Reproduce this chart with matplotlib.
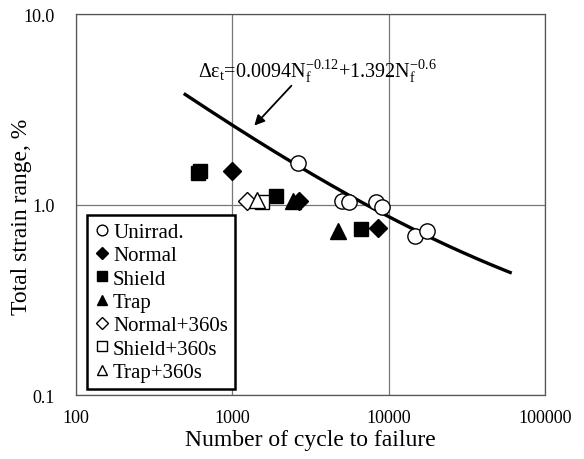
import numpy as np
import matplotlib.pyplot as plt

plt.rcParams['font.family'] = ['Liberation Serif', 'DejaVu Serif']
plt.rcParams['mathtext.fontset'] = 'custom'
plt.rcParams['mathtext.rm'] = 'Liberation Serif'
plt.rcParams['mathtext.it'] = 'Liberation Serif'

# cycles to failure / total strain range (%)
unirrad_n = [2650, 5070, 5620, 8260, 9020, 14700, 17500]
unirrad_e = [1.66, 1.05, 1.036, 1.036, 0.976, 0.687, 0.73]
normal_n = [1000, 2690, 8500]
normal_e = [1.51, 1.05, 0.757]
shield_n = [605, 625, 1914, 6700]
shield_e = [1.47, 1.50, 1.115, 0.748]
trap_n = [2430, 4780]
trap_e = [1.04, 0.73]
normal360_n = [1250]
normal360_e = [1.05]
shield360_n = [1557]
shield360_e = [1.036]
trap360_n = [1450]
trap360_e = [1.06]


def fit(n):
    return 100 * (0.0094 * n ** -0.12 + 1.392 * n ** -0.6)


fig = plt.figure(figsize=(5.84, 4.6), dpi=100)
ax = fig.add_axes([0.130, 0.139, 0.803, 0.828])

nn = np.logspace(np.log10(500), np.log10(60000), 200)
ax.plot(nn, fit(nn), color='black', lw=2.4, zorder=2)

ms = 11
ax.plot(unirrad_n, unirrad_e, 'o', mfc='white', mec='black', mew=1.0, ms=ms, label='Unirrad.', zorder=3)
ax.plot(normal_n, normal_e, 'D', mfc='black', mec='black', ms=ms * 0.8, label='Normal', zorder=3)
ax.plot(shield_n, shield_e, 's', mfc='black', mec='black', ms=ms * 0.9, label='Shield', zorder=3)
ax.plot(trap_n, trap_e, '^', mfc='black', mec='black', ms=ms, label='Trap', zorder=3)
ax.plot(normal360_n, normal360_e, 'D', mfc='white', mec='black', mew=1.0, ms=ms * 0.8, label='Normal+360s', zorder=3)
ax.plot(shield360_n, shield360_e, 's', mfc='white', mec='black', mew=1.0, ms=ms * 0.9, label='Shield+360s', zorder=3)
ax.plot(trap360_n, trap360_e, '^', mfc='white', mec='black', mew=1.0, ms=ms, label='Trap+360s', zorder=3)

ax.set_xscale('log')
ax.set_yscale('log')
ax.set_xlim(100, 100000)
ax.set_ylim(0.1, 10)
ax.set_xticks([100, 1000, 10000, 100000])
ax.set_xticklabels(['100', '1000', '10000', '100000'])
ax.set_yticks([0.1, 1.0, 10.0])
ax.set_yticklabels(['0.1', '1.0', '10.0'])
ax.minorticks_off()
ax.tick_params(length=0, labelsize=13)
ax.tick_params(axis='x', pad=10)
ax.tick_params(axis='y', pad=15)
ax.grid(True, color='#777777', lw=0.9)
for s in ax.spines.values():
    s.set_color('#555555')
    s.set_linewidth(0.9)

ax.set_xlabel('Number of cycle to failure', fontsize=17)
ax.set_ylabel('Total strain range, %', fontsize=17)
ax.xaxis.set_label_coords(0.5, -0.09)
ax.yaxis.set_label_coords(-0.094, 0.47)

ax.text(3510, 5.04, r'$\Delta\varepsilon_{\rm t}$=0.0094N$_{\rm f}^{-0.12}$+1.392N$_{\rm f}^{-0.6}$',
        ha='center', va='center', fontsize=14.5)
ax.annotate('', xy=(1384, 2.6), xytext=(2390, 4.21),
            arrowprops=dict(arrowstyle='-|>,head_length=0.6,head_width=0.3', color='black', lw=1.3,
                            shrinkA=0, shrinkB=0))

leg = ax.legend(loc='upper left', bbox_to_anchor=(0.149, 0.530), bbox_transform=fig.transFigure,
                borderaxespad=0, fancybox=False, framealpha=1, edgecolor='black',
                fontsize=15, handlelength=0.7, handletextpad=0.2, labelspacing=0.18,
                borderpad=0.35, markerscale=0.7)
leg.get_frame().set_linewidth(1.8)

fig.savefig('out.png', dpi=100)
